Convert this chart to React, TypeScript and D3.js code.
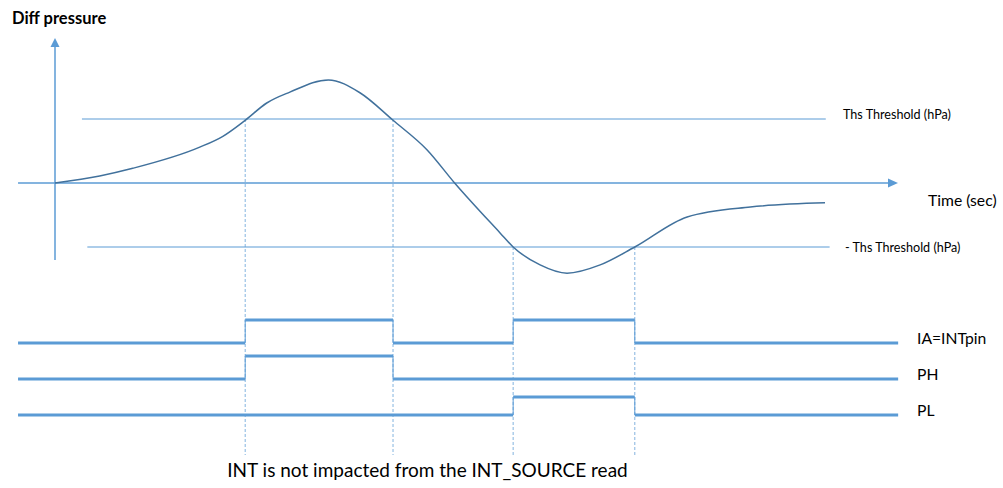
import React from 'react';
import * as d3 from 'd3';

// Diff pressure curve (time units, pressure in threshold units)
const curveTime = [0, 5.8, 10.1, 18.8, 21.8, 24.7, 27.5, 30.5, 35.5, 39.6, 43.9, 48.3, 51.9, 57.8, 59.5, 63, 66.5, 70.8, 75.3, 82.1, 90.3, 100];
const curvePressure = [0, 0.11, 0.23, 0.56, 0.73, 0.98, 1.25, 1.42, 1.61, 1.41, 0.98, 0.52, 0, -0.78, -1.0, -1.28, -1.41, -1.28, -1.0, -0.53, -0.375, -0.31];

// threshold crossings (time)
const crossings = [24.7, 43.9, 59.5, 75.3];
const crossingLevel = [1, 1, -1, -1];

// digital signals: high intervals
const signalNames = ['IA=INTpin', 'PH', 'PL'];
const signalHigh: [number, number][][] = [
  [[24.7, 43.9], [59.5, 75.3]],
  [[24.7, 43.9]],
  [[59.5, 75.3]],
];
const signalStart = -4.8;
const signalEnd = 109.5;

const W = 1003;
const H = 488;
const blue = '#5b9bd5';
const curveBlue = '#41719c';
const font = 'Lato, "Open Sans", sans-serif';

const App: React.FC = () => {
  const x = d3.scaleLinear().domain([0, 100]).range([55, 825]);
  const y = d3.scaleLinear().domain([-1, 1]).range([247, 119]);

  const line = d3
    .line<number>()
    .x((_, i) => x(curveTime[i]))
    .y((d) => y(d))
    .curve(d3.curveMonotoneX);

  const rowLow = [343, 379, 415];
  const rowHigh = [320, 356, 397];

  return (
    <svg width={W} height={H} style={{ position: 'absolute', left: 0, top: 0 }}>
      <rect width={W} height={H} fill="#fff" />
      <text x={12} y={24} fontFamily={font} fontWeight="bold" fontSize={16.5} fill="#000">
        Diff pressure
      </text>

      {/* y axis */}
      <line x1={x(0)} x2={x(0)} y1={46} y2={260} stroke={blue} strokeWidth={1.5} />
      <path d={`M${x(0)},38 L${x(0) - 4.5},47 L${x(0) + 4.5},47 Z`} fill={blue} />

      {/* time axis */}
      <line x1={x(-4.8)} x2={890} y1={y(0)} y2={y(0)} stroke={blue} strokeWidth={1.5} />
      <path d={`M898,${y(0)} L888,${y(0) - 4.5} L888,${y(0) + 4.5} Z`} fill={blue} />
      <text x={928} y={206} fontFamily={font} fontSize={15.7} fill="#000">
        Time (sec)
      </text>

      {/* thresholds */}
      <line x1={x(3.5)} x2={x(100.1)} y1={y(1)} y2={y(1)} stroke={blue} strokeWidth={1} />
      <text x={843} y={119} fontFamily={font} fontSize={12.6} fill="#000">
        Ths Threshold (hPa)
      </text>
      <line x1={x(4.2)} x2={x(100.6)} y1={y(-1)} y2={y(-1)} stroke={blue} strokeWidth={1} />
      <text x={845} y={252} fontFamily={font} fontSize={12.6} fill="#000">
        - Ths Threshold (hPa)
      </text>

      {/* drop lines */}
      {crossings.map((c, i) => (
        <line
          key={i}
          x1={x(c)}
          x2={x(c)}
          y1={y(crossingLevel[i])}
          y2={455}
          stroke={blue}
          strokeWidth={1}
          strokeDasharray="3,2"
          opacity={0.75}
        />
      ))}

      {/* curve */}
      <path d={line(curvePressure) || ''} fill="none" stroke={curveBlue} strokeWidth={1.5} />

      {/* signals */}
      {signalNames.map((name, r) => {
        const highs = signalHigh[r];
        const segs: { a: number; b: number; hi: boolean }[] = [];
        let t = signalStart;
        highs.forEach(([a, b]) => {
          segs.push({ a: t, b: a, hi: false });
          segs.push({ a, b, hi: true });
          t = b;
        });
        segs.push({ a: t, b: signalEnd, hi: false });
        return (
          <g key={name}>
            {segs.map((s, i) => (
              <line
                key={i}
                x1={x(s.a)}
                x2={x(s.b)}
                y1={s.hi ? rowHigh[r] : rowLow[r]}
                y2={s.hi ? rowHigh[r] : rowLow[r]}
                stroke={blue}
                strokeWidth={3}
              />
            ))}
            {highs.flat().map((e, i) => (
              <line key={'e' + i} x1={x(e)} x2={x(e)} y1={rowHigh[r]} y2={rowLow[r]} stroke={blue} strokeWidth={1} />
            ))}
            <text x={917} y={rowLow[r] + 1} fontFamily={font} fontSize={15.7} fill="#000">
              {name}
            </text>
          </g>
        );
      })}

      <text x={427.5} y={477} textAnchor="middle" fontFamily={font} fontSize={19} fill="#000">
        INT is not impacted from the INT_SOURCE read
      </text>
    </svg>
  );
};

export default App;
